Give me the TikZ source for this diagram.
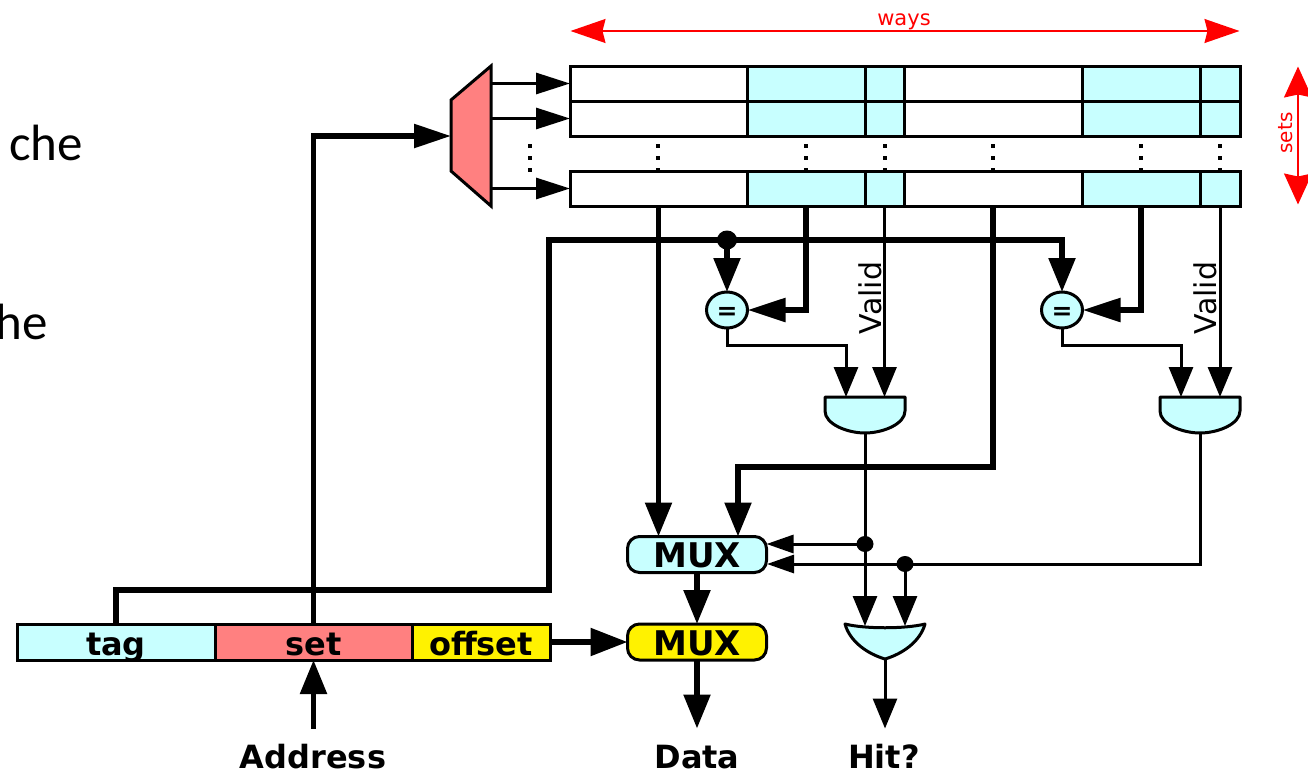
\documentclass[tikz,border=0pt]{standalone}
\usepackage{fontspec}
\setmainfont{DejaVu Sans}
\newfontfamily\carl{Carlito}
\usetikzlibrary{arrows.meta,calc,shapes.geometric}
\definecolor{cellc}{HTML}{C8FFFF}
\definecolor{salm}{HTML}{FF8080}
\tikzset{
  x=1pt,y=-1pt,
  cell/.style={draw=black,line width=3pt,outer sep=0pt,inner sep=0pt,minimum height=35pt},
  ghost/.style={inner sep=0pt,outer sep=0pt},
  gateshape/.style={draw=black,line width=3pt,line join=round,fill=cellc},
  bus/.style={line width=5.5pt,draw=black},
  wire/.style={line width=3pt,draw=black},
  bigh/.tip={Triangle[length=34pt,width=26pt]},
  smallh/.tip={Triangle[length=30pt,width=24pt]},
  sideh/.tip={Triangle[length=27pt,width=18pt]},
  rowh/.tip={Triangle[length=34pt,width=21pt]},
  redh/.tip={Stealth[length=35pt,width=24pt,inset=3pt]},
  muxbox/.style={draw=black,line width=3pt,rounded corners=12pt,minimum width=139pt,minimum height=36pt,inner sep=0pt,outer sep=0pt,text height=31pt,text depth=5pt,font=\fontsize{34}{36}\selectfont\bfseries},
  addr/.style={draw=black,line width=3pt,minimum height=36pt,inner sep=0pt,outer sep=0pt,text height=31pt,text depth=5pt,font=\fontsize{32}{34}\selectfont\bfseries},
  eqbox/.style={draw=black,line width=3pt,fill=cellc,ellipse,minimum width=41pt,minimum height=36pt,inner sep=0pt,outer sep=0pt,text height=18pt,text depth=0pt,font=\fontsize{25}{27}\selectfont\bfseries},
  outlabel/.style={anchor=base,font=\fontsize{32}{34}\selectfont\bfseries,inner sep=0pt},
  validlabel/.style={rotate=90,font=\fontsize{30}{32}\selectfont,inner sep=0pt},
  junction/.style={fill=black,ellipse,inner sep=0pt}
}
\begin{document}
\begin{tikzpicture}
\useasboundingbox (0,0) rectangle (1308,771);
\clip (0,0) rectangle (1308,771);

% clipped slide text
\node[anchor=base east,inner sep=0pt,font=\carl\fontsize{51}{53}\selectfont] (frag1) at (83,160) {che};
\node[anchor=base east,inner sep=0pt,font=\carl\fontsize{51}{53}\selectfont] (frag2) at (48,339) {he};

% cache array
\foreach \yy/\r in {83.5/a,118.5/b,188.5/c}{
  \node[cell,minimum width=177pt] (\r1) at (658.5,\yy) {};
  \node[cell,minimum width=118pt,fill=cellc] (\r2) at (806,\yy) {};
  \node[cell,minimum width=39pt,fill=cellc] (\r3) at (884.5,\yy) {};
  \node[cell,minimum width=178pt] (\r4) at (993,\yy) {};
  \node[cell,minimum width=118pt,fill=cellc] (\r5) at (1141,\yy) {};
  \node[cell,minimum width=40pt,fill=cellc] (\r6) at (1220,\yy) {};
}
\foreach \xx in {530,658,806,885,993,1141,1220}{
  \fill (\xx-2,144) rectangle (\xx+2,148);
  \fill (\xx-2,156) rectangle (\xx+2,160);
  \fill (\xx-2,168) rectangle (\xx+2,172);
}

% decoder
\node[ghost,minimum width=40pt,minimum height=140pt] (dec) at (471,136) {};
\draw[line width=3pt,line join=miter,fill=salm] (451,100) -- (491,66) -- (491,206) -- (451,171) -- cycle;
\foreach \r in {a,b,c}{
  \draw[wire,-{rowh}] (\r1.west -| dec.east) -- (\r1.west);
}

% ways / sets
\node[ghost] (w1) at (570,31) {};
\node[ghost] (w2) at (1240,31) {};
\draw[red,line width=1.6pt,{redh}-{redh}] (w1) -- (w2);
\node[text=red,anchor=base,inner sep=0pt,font=\fontsize{21}{23}\selectfont] (ways) at (904,25) {ways};
\node[ghost] (s1) at (1298,66) {};
\node[ghost] (s2) at (1298,205) {};
\draw[red,line width=1.6pt,{Stealth[length=31pt,width=28pt,inset=3pt]}-{Stealth[length=31pt,width=28pt,inset=3pt]}] (s1) -- (s2);
\node[text=red,rotate=90,inner sep=0pt,font=\fontsize{20}{22}\selectfont] (sets) at (1286,133) {sets};

% address
\node[addr,fill=cellc,minimum width=198pt] (tag) at (116,642) {tag};
\node[addr,fill=salm,minimum width=197pt] (set) at (313.5,642) {set};
\node[addr,fill=yellow,minimum width=138pt] (offset) at (481,642) {offset};

% comparators
\node[eqbox] (eq1) at (727,310) {=};
\node[eqbox] (eq2) at (1062,310) {=};

% AND gates
\node[ghost,minimum width=80pt,minimum height=36pt] (and1) at (865,415) {};
\node[ghost,minimum width=80pt,minimum height=36pt] (and2) at (1200,415) {};
\foreach \gx in {865,1200}{
  \draw[gateshape] (\gx-40,397) -- (\gx+40,397) -- (\gx+40,411)
     .. controls (\gx+40,424) and (\gx+18,433) .. (\gx,433)
     .. controls (\gx-18,433) and (\gx-40,424) .. (\gx-40,411) -- cycle;
}
% OR gate
\node[ghost,minimum width=80pt,minimum height=35pt] (or) at (885,642) {};
\draw[gateshape] (845,624) .. controls (865,629) and (905,629) .. (925,624)
   .. controls (920,642) and (902,654) .. (885,659)
   .. controls (868,654) and (850,642) .. (845,624) -- cycle;

% muxes
\node[muxbox,fill=cellc] (mux1) at (697,554.5) {MUX};
\node[muxbox,fill=yellow] (mux2) at (697,642) {MUX};

% junctions
\node[junction,minimum width=20pt,minimum height=19pt] (jt) at (727,240) {};
\node[junction,minimum width=17pt,minimum height=16pt] (ja) at (865,544) {};
\node[junction,minimum width=17pt,minimum height=16pt] (jb) at (905,564) {};

% buses
\draw[bus,-{Triangle[length=37pt,width=23pt]}] (set.north) -- (set.north |- dec.west) -- (dec.west);
\draw[bus,-{bigh}] (tag.north) -- (116,590) -- (549,590) -- (549,240) -- (1062,240) -- (eq2.north);
\draw[bus,-{bigh}] (jt.center) -- (eq1.north);
\draw[bus,-{Triangle[length=38pt,width=23pt]}] (c2.south) |- (eq1.east);
\draw[bus,-{Triangle[length=38pt,width=23pt]}] (c5.south) |- (eq2.east);
\draw[bus,-{bigh}] (c1.south) -- (c1.south |- mux1.north);
\draw[bus,-{bigh}] (c4.south) -- (993,467) -- (738,467) -- (738,536.5);
\draw[bus,-{bigh}] (mux1.south) -- (mux2.north);
\node[ghost] (dataout) at (697,729) {};
\draw[bus,-{bigh}] (mux2.south) -- (dataout);
\draw[bus,-{Triangle[length=37pt,width=27pt]}] (offset.east) -- (mux2.west);
\node[ghost] (addrin) at (313.5,729) {};
\draw[bus,-{bigh}] (addrin) -- (set.south);

% thin wires
\draw[wire,-{smallh}] (c3.south) -- (c3.south |- and1.north);
\draw[wire,-{smallh}] (c6.south) -- (c6.south |- and2.north);
\draw[wire,-{smallh}] (eq1.south) |- (846,345) -- (846,397);
\draw[wire,-{smallh}] (eq2.south) |- (1181,345) -- (1181,397);
\draw[wire] (and1.south) -- (ja.center);
\draw[wire,-{smallh}] (ja.center) -- (865,626);
\draw[wire,-{sideh}] (ja.center) -- (ja.center -| mux1.east);
\draw[wire,-{sideh}] (and2.south) |- (767,564);
\draw[wire,-{smallh}] (jb.center) -- (905,626);
\node[ghost] (hitout) at (885,729) {};
\draw[wire,-{smallh}] (or.south) -- (hitout);

% labels
\node[validlabel] (v1) at (870,298) {Valid};
\node[validlabel] (v2) at (1205,298) {Valid};
\node[outlabel] (laddr) at (313,768) {Address};
\node[outlabel] (ldata) at (697,768) {Data};
\node[outlabel] (lhit) at (884,768) {Hit?};
\end{tikzpicture}
\end{document}
